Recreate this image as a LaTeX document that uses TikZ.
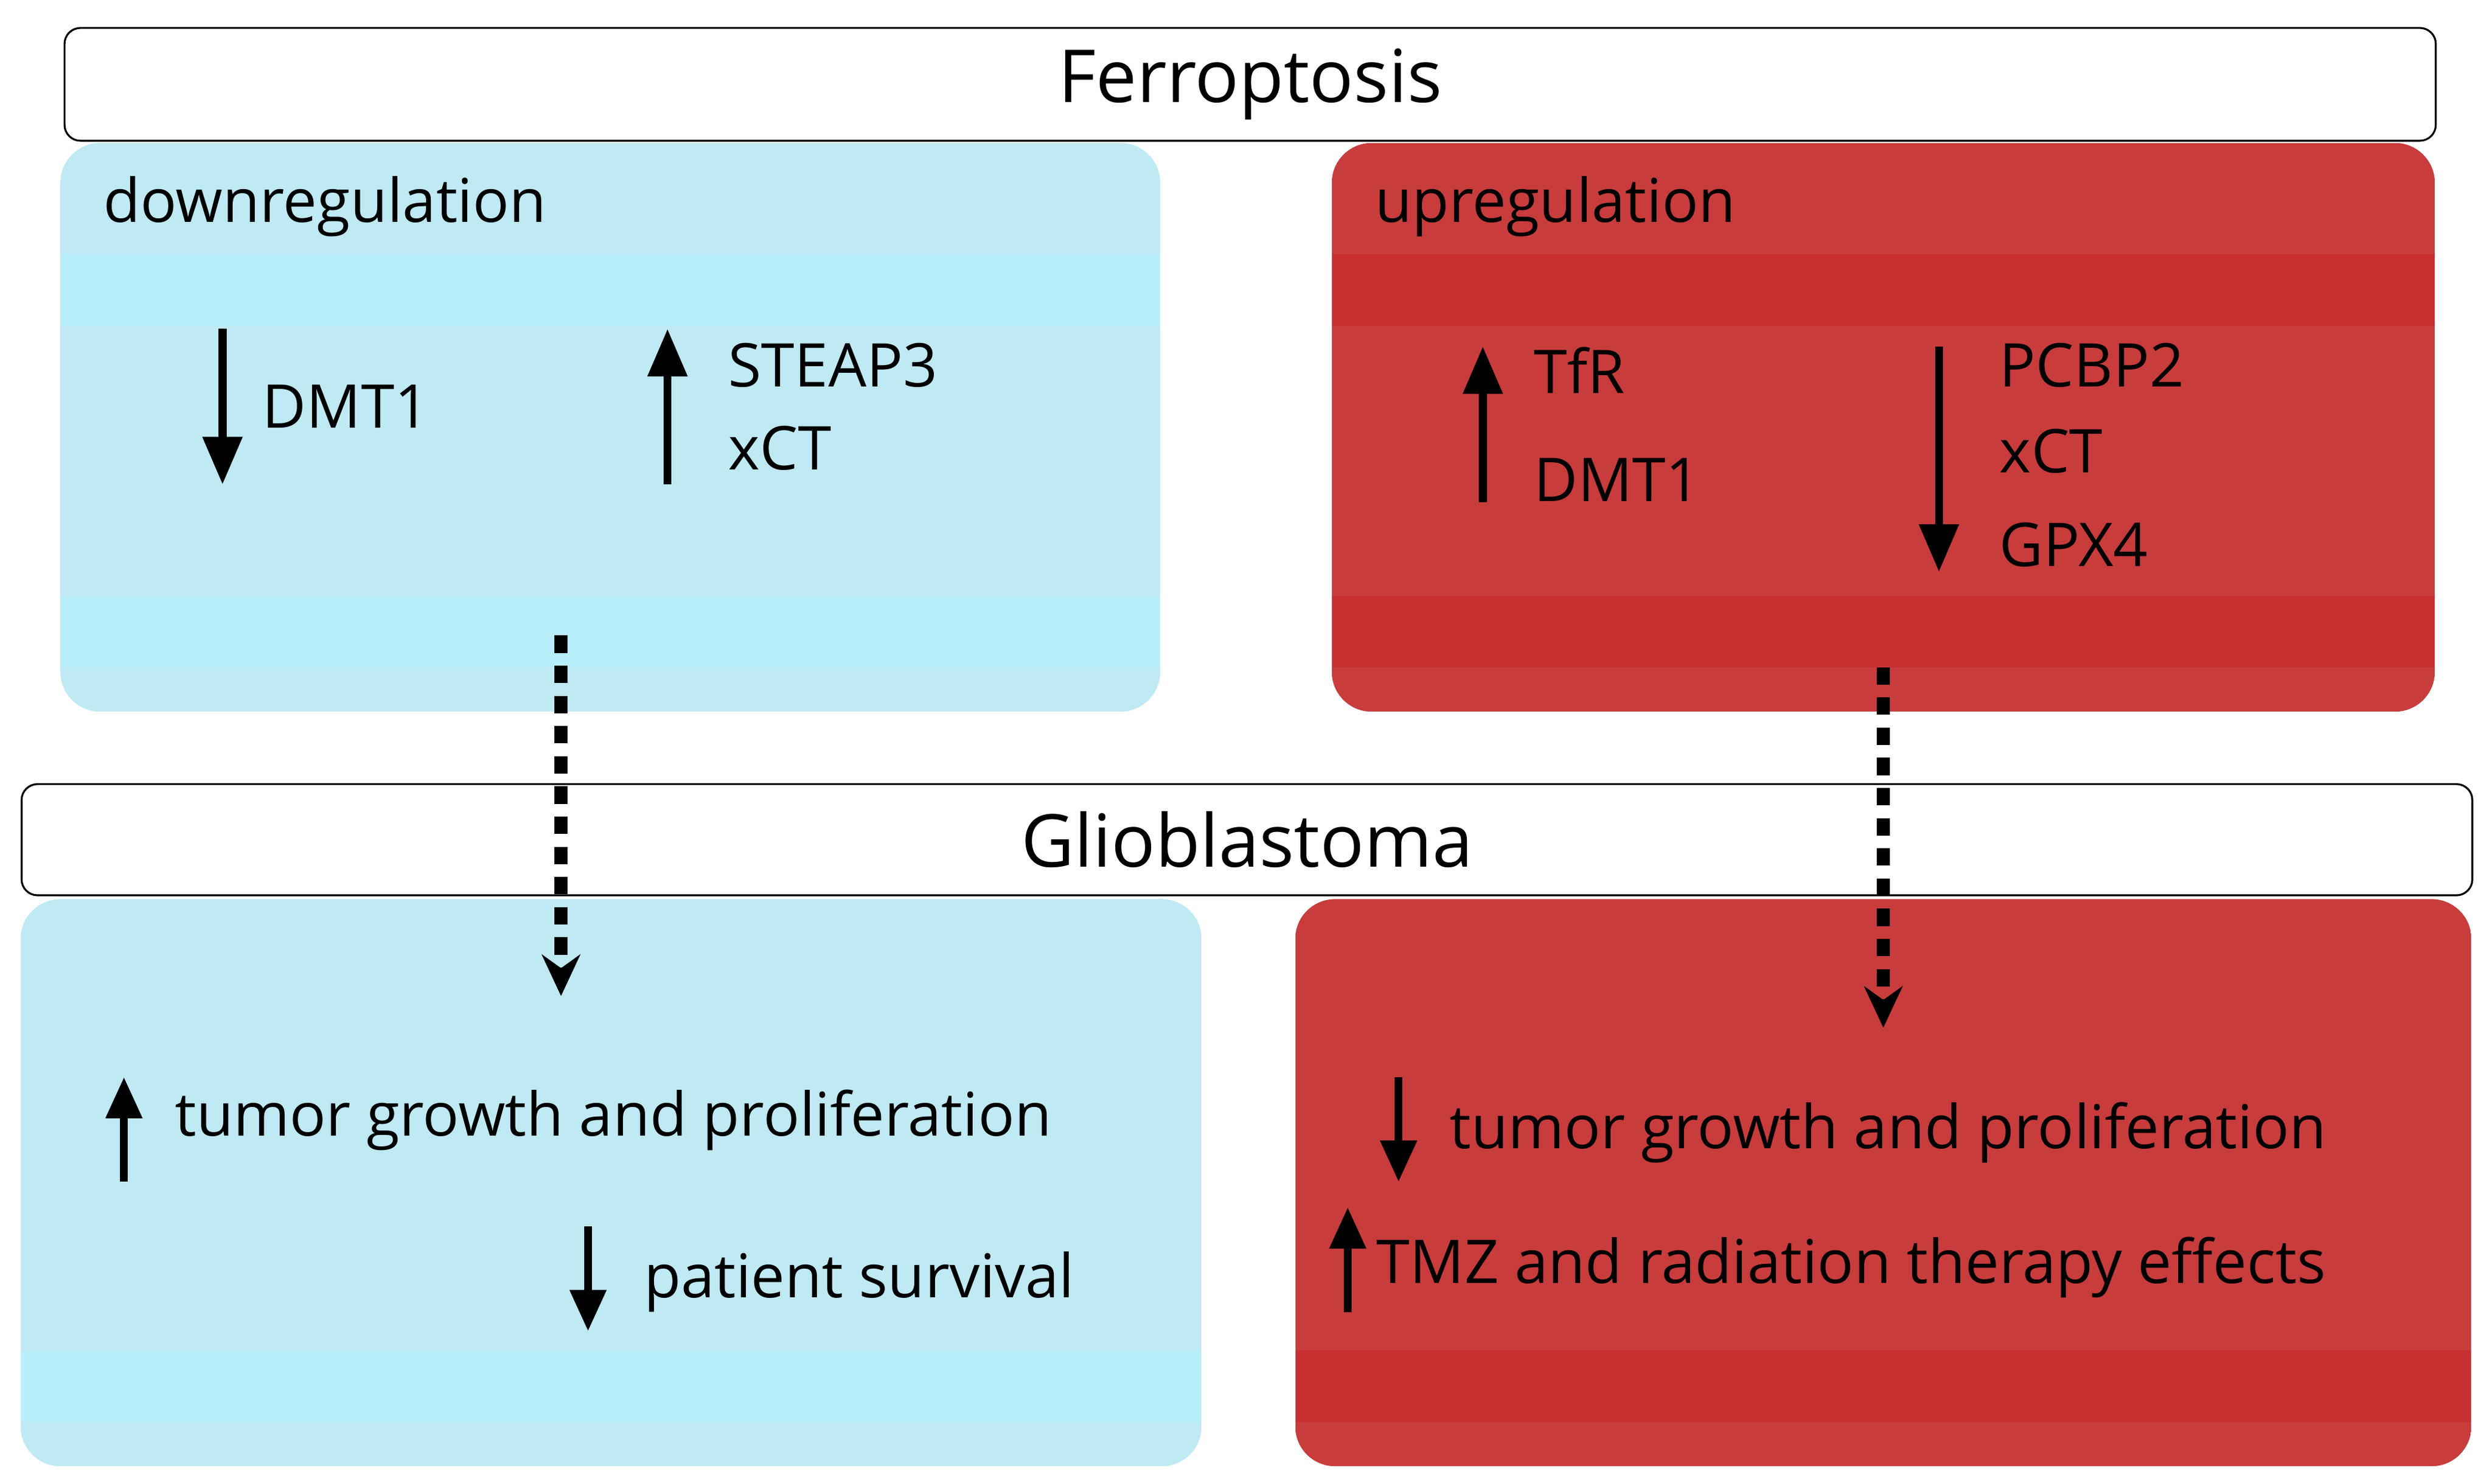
\documentclass[tikz,border=0pt]{standalone}
\usepackage{fontspec}
\setmainfont{Open Sans}
\usetikzlibrary{arrows.meta}
\definecolor{lb}{HTML}{BFE9F3}
\definecolor{lbb}{HTML}{B8EDFA}
\definecolor{rd}{HTML}{C83C3C}
\definecolor{rdb}{HTML}{C82F31}
\begin{document}
\begin{tikzpicture}[x=1pt,y=-1pt,
  title/.style={draw=black,line width=1.2pt,fill=white,rounded corners=10pt},
  lab/.style={anchor=west,font=\fontsize{38}{40}\selectfont,inner sep=0},
  big/.style={font=\fontsize{46}{48}\selectfont},
  ar/.style={line width=5pt,-{Triangle[length=30pt,width=24pt]}},
  sar/.style={line width=5pt,-{Triangle[length=26pt,width=22pt]}},
  dar/.style={line width=8pt,dash pattern=on 11pt off 8pt,-{Stealth[length=26pt,width=24pt]}}]
\useasboundingbox (0,0) rectangle (1568,934);
\fill[white] (0,0) rectangle (1568,934);
% top panels
\begin{scope}
\clip[rounded corners=25pt] (38,90) rectangle (730,448);
\fill[lb] (38,90) rectangle (730,448);
\fill[lbb] (38,160) rectangle (730,205);
\fill[lbb] (38,375) rectangle (730,420);
\end{scope}
\begin{scope}
\clip[rounded corners=25pt] (838,90) rectangle (1532,448);
\fill[rd] (838,90) rectangle (1532,448);
\fill[rdb] (838,160) rectangle (1532,205);
\fill[rdb] (838,375) rectangle (1532,420);
\end{scope}
\begin{scope}
\clip[rounded corners=25pt] (13,566) rectangle (756,923);
\fill[lb] (13,566) rectangle (756,923);
\fill[lbb] (13,850) rectangle (756,895);
\end{scope}
\begin{scope}
\clip[rounded corners=25pt] (815,566) rectangle (1555,923);
\fill[rd] (815,566) rectangle (1555,923);
\fill[rdb] (815,850) rectangle (1555,895);
\end{scope}
\node[title,minimum width=1492pt,minimum height=71pt,anchor=north west] (ferro) at (40,17) {};
\node[big] at (ferro.center) {Ferroptosis};
\node[title,minimum width=1542pt,minimum height=70pt,anchor=north west] (glio) at (13,493) {};
\node[big] at (glio.center) {Glioblastoma};
\node[lab] (down) at (65,130) {downregulation};
\node[lab] (up) at (865,130) {upregulation};
% blue top
\coordinate (a1s) at (140,207); \coordinate (a1e) at (140,305);
\draw[ar] (a1s) -- (a1e);
\node[lab] (dmt1) at (165,256) {DMT1};
\coordinate (a2s) at (420,305); \coordinate (a2e) at (420,207);
\draw[ar] (a2s) -- (a2e);
\node[lab] (steap) at (458,230) {STEAP3};
\node[lab] (xct1) at (458,282) {xCT};
% red top
\coordinate (a3s) at (933,316); \coordinate (a3e) at (933,218);
\draw[ar] (a3s) -- (a3e);
\node[lab] (tfr) at (965,233) {TfR};
\node[lab] (dmt2) at (965,302) {DMT1};
\coordinate (a4s) at (1220,218); \coordinate (a4e) at (1220,360);
\draw[ar] (a4s) -- (a4e);
\node[lab] (pcbp) at (1258,230) {PCBP2};
\node[lab] (xct2) at (1258,284) {xCT};
\node[lab] (gpx) at (1258,343) {GPX4};
% dotted
\coordinate (d1s) at (353,400); \coordinate (d1e) at (353,627);
\draw[dar] (d1s) -- (d1e);
\coordinate (d2s) at (1185,420); \coordinate (d2e) at (1185,647);
\draw[dar] (d2s) -- (d2e);
% bottom blue
\coordinate (b1s) at (78,744); \coordinate (b1e) at (78,678);
\draw[sar] (b1s) -- (b1e);
\node[lab] (tg1) at (110,705) {tumor growth and proliferation};
\coordinate (b2s) at (370,772); \coordinate (b2e) at (370,838);
\draw[sar] (b2s) -- (b2e);
\node[lab] (ps) at (405,807) {patient survival};
% bottom red
\coordinate (b3s) at (880,678); \coordinate (b3e) at (880,744);
\draw[sar] (b3s) -- (b3e);
\node[lab] (tg2) at (912,713) {tumor growth and proliferation};
\coordinate (b4s) at (848,826); \coordinate (b4e) at (848,760);
\draw[sar] (b4s) -- (b4e);
\node[lab] (tmz) at (866,798) {TMZ and radiation therapy effects};
\end{tikzpicture}
\end{document}
